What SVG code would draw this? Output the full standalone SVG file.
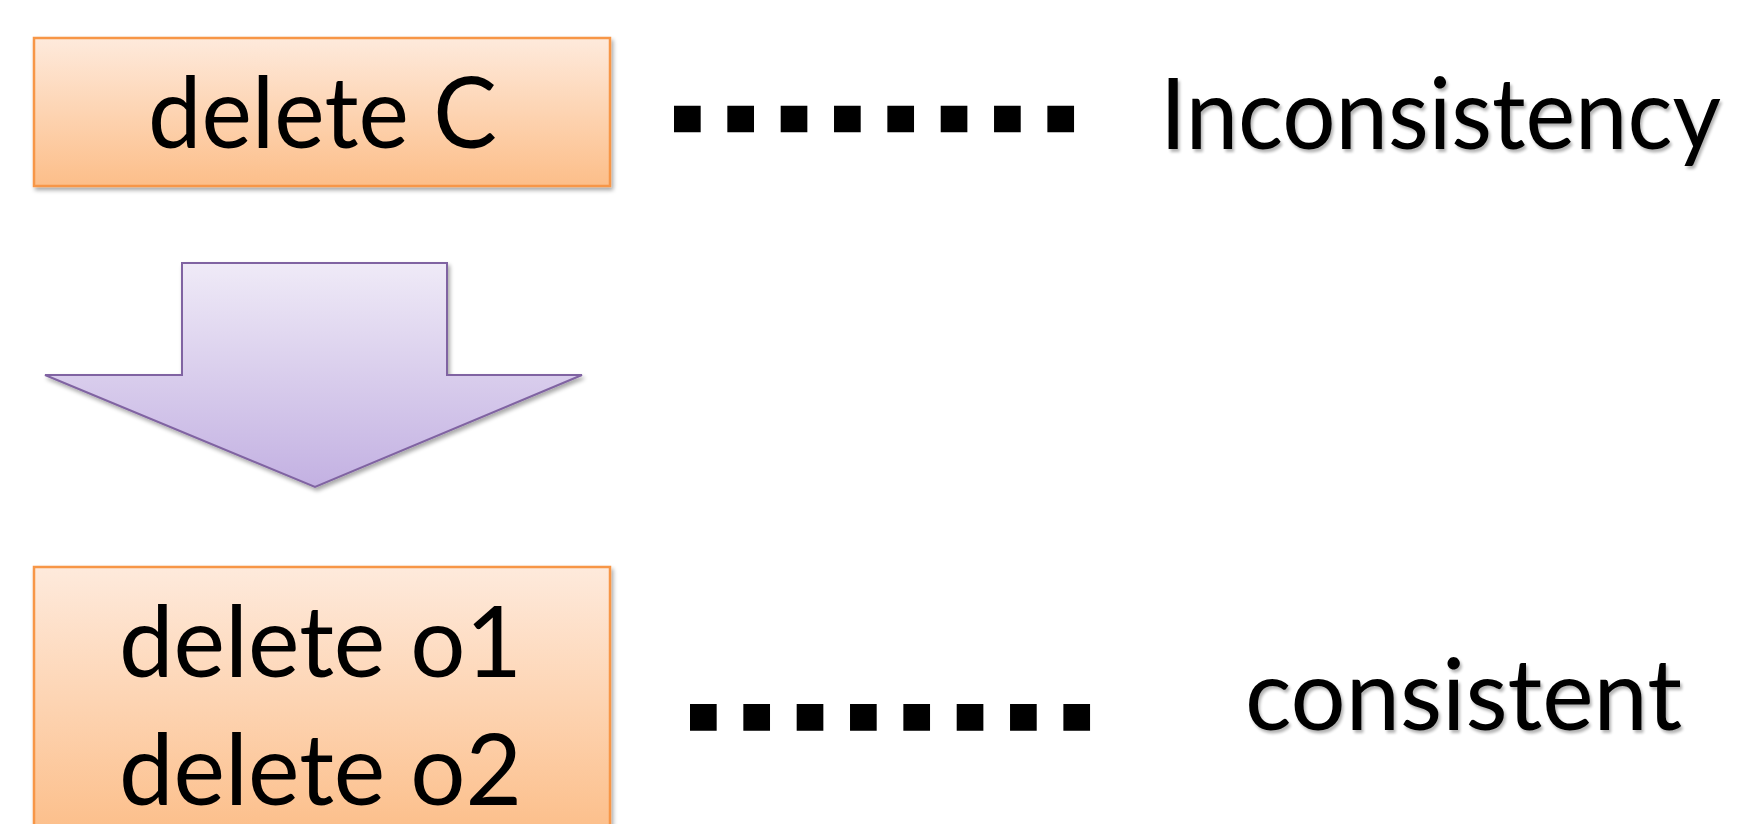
<svg xmlns="http://www.w3.org/2000/svg" width="1749" height="824" viewBox="0 0 1749 824">
  <defs>
    <linearGradient id="peach" x1="0" y1="0" x2="0" y2="1">
      <stop offset="0" stop-color="#FEEADC"/>
      <stop offset="1" stop-color="#FCBE89"/>
    </linearGradient>
    <linearGradient id="lilac" x1="0" y1="0" x2="0" y2="1">
      <stop offset="0" stop-color="#EFEAF7"/>
      <stop offset="1" stop-color="#C3B1E2"/>
    </linearGradient>
    <filter id="boxShadow" x="-5%" y="-5%" width="112%" height="120%">
      <feGaussianBlur in="SourceAlpha" stdDeviation="2"/>
      <feOffset dx="1.5" dy="3" result="b"/>
      <feComponentTransfer><feFuncA type="linear" slope="0.35"/></feComponentTransfer>
      <feMerge><feMergeNode/><feMergeNode in="SourceGraphic"/></feMerge>
    </filter>
    <filter id="textShadow" x="-5%" y="-10%" width="110%" height="130%">
      <feGaussianBlur in="SourceAlpha" stdDeviation="1.8"/>
      <feOffset dx="1.5" dy="3"/>
      <feComponentTransfer><feFuncA type="linear" slope="0.3"/></feComponentTransfer>
      <feMerge><feMergeNode/><feMergeNode in="SourceGraphic"/></feMerge>
    </filter>
  </defs>
  <style>
    .box { fill: url(#peach); stroke: #F79646; stroke-width: 2.5; }
    .label { font-family: Lato, "Noto Sans", "Liberation Sans", sans-serif; font-size: 99px; fill: #000; }
    .leader { stroke: #000; stroke-width: 26.7; stroke-dasharray: 26.67 26.67; fill: none; }
  </style>
  <rect width="1749" height="824" fill="#FFFFFF"/>

  <!-- operation before rewriting -->
  <g id="node-delete-c" filter="url(#boxShadow)">
    <rect class="box" x="34" y="38" width="576" height="148"/>
    <text class="label" x="148" y="148" textLength="349" lengthAdjust="spacingAndGlyphs">delete C</text>
  </g>

  <!-- result label for the original operation -->
  <g id="node-inconsistency" filter="url(#textShadow)">
    <text class="label" x="1160" y="149" textLength="561" lengthAdjust="spacingAndGlyphs">Inconsistency</text>
  </g>

  <!-- transformation arrow -->
  <g id="node-arrow" filter="url(#boxShadow)">
    <path d="M182,263 L447,263 L447,375 L582,375 L315,487 L45,375 L182,375 Z" fill="url(#lilac)" stroke="#8064A2" stroke-width="2" stroke-linejoin="miter"/>
  </g>

  <!-- rewritten operations -->
  <g id="node-delete-objects" filter="url(#boxShadow)">
    <rect class="box" x="34" y="567" width="576" height="270"/>
    <text class="label" x="119" y="677" textLength="403" lengthAdjust="spacingAndGlyphs">delete o1</text>
    <text class="label" x="119" y="805" textLength="403" lengthAdjust="spacingAndGlyphs">delete o2</text>
  </g>

  <!-- result label for the rewritten operations -->
  <g id="node-consistent" filter="url(#textShadow)">
    <text class="label" x="1245" y="730" textLength="437" lengthAdjust="spacingAndGlyphs">consistent</text>
  </g>

  <!-- dotted leaders from operations to their results -->
  <g id="connectors">
    <line class="leader" x1="674" y1="119" x2="1075" y2="119"/>
    <line class="leader" x1="690" y1="717.3" x2="1091" y2="717.3"/>
  </g>
</svg>
